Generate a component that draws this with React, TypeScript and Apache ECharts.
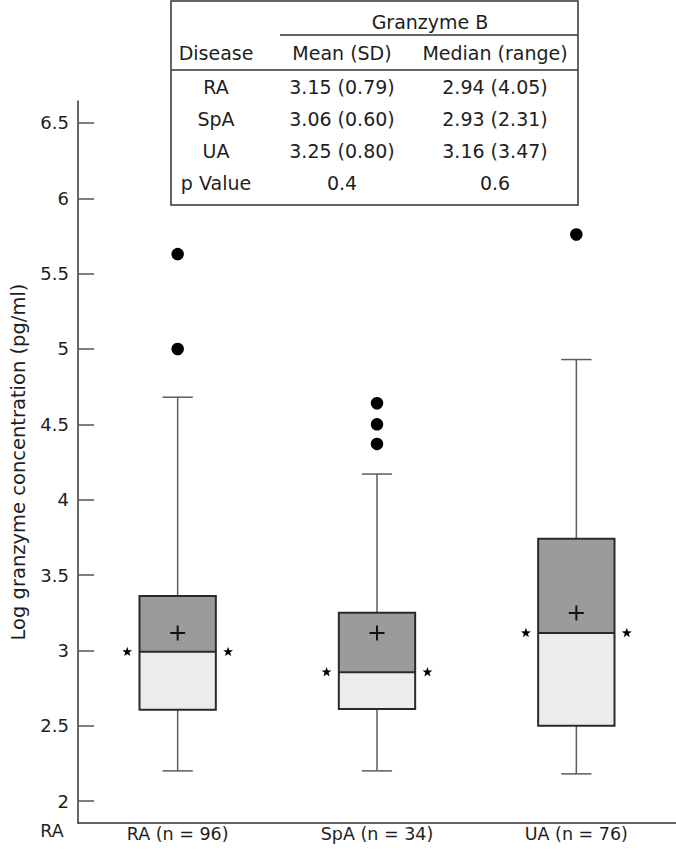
import React, { useEffect, useRef } from 'react';
import * as echarts from 'echarts';

const categories = ['RA (n = 96)', 'SpA (n = 34)', 'UA (n = 76)'];
const whiskerLow = [2.2, 2.2, 2.18];
const q1 = [2.605, 2.61, 2.5];
const medians = [2.99, 2.855, 3.115];
const q3 = [3.36, 3.25, 3.74];
const whiskerHigh = [4.68, 4.17, 4.93];
const means = [3.115, 3.115, 3.248];
const outlierGroup = [0, 0, 1, 1, 1, 2];
const outlierValue = [5.63, 5.0, 4.64, 4.5, 4.37, 5.76];
const yTicks = [2, 2.5, 3, 3.5, 4, 4.5, 5, 5.5, 6, 6.5];

const tableTitle = 'Granzyme B';
const tableHeaders = ['Disease', 'Mean (SD)', 'Median (range)'];
const tableDiseases = ['RA', 'SpA', 'UA', 'p Value'];
const tableMeanSD = ['3.15 (0.79)', '3.06 (0.60)', '3.25 (0.80)', '0.4'];
const tableMedianRange = ['2.94 (4.05)', '2.93 (2.31)', '3.16 (3.47)', '0.6'];

const FONT = '"DejaVu Sans", sans-serif';
const TXT = '#1e1e1e';

function starPoints(cx: number, cy: number, R: number, r: number) {
  const pts: number[][] = [];
  for (let k = 0; k < 10; k++) {
    const ang = -Math.PI / 2 + (k * Math.PI) / 5;
    const rad = k % 2 === 0 ? R : r;
    pts.push([cx + rad * Math.cos(ang), cy + rad * Math.sin(ang)]);
  }
  return pts;
}

export default function App() {
  const ref = useRef<HTMLDivElement>(null);
  useEffect(() => {
    if (!ref.current) return;
    const chart = echarts.init(ref.current, undefined, { renderer: 'svg' });

    const boxData = categories.map((_, i) => [i, whiskerLow[i], q1[i], medians[i], q3[i], whiskerHigh[i], means[i]]);

    const colX = [216, 342, 495];
    const rowY = [87, 119, 151, 183];
    const tableGraphics: any[] = [
      { type: 'rect', shape: { x: 171, y: 1, width: 407, height: 204 }, style: { fill: 'none', stroke: '#333', lineWidth: 1.5 } },
      { type: 'line', shape: { x1: 280, y1: 35, x2: 578, y2: 35 }, style: { stroke: '#333', lineWidth: 1.5 } },
      { type: 'line', shape: { x1: 171, y1: 70, x2: 578, y2: 70 }, style: { stroke: '#333', lineWidth: 1.5 } },
      { type: 'text', x: 430, y: 22, style: { text: tableTitle, font: `19px ${FONT}`, fill: TXT, align: 'center', verticalAlign: 'middle' } },
    ];
    tableHeaders.forEach((h, j) => {
      tableGraphics.push({ type: 'text', x: colX[j], y: 53, style: { text: h, font: `19px ${FONT}`, fill: TXT, align: 'center', verticalAlign: 'middle' } });
    });
    tableDiseases.forEach((d, r) => {
      const vals = [d, tableMeanSD[r], tableMedianRange[r]];
      vals.forEach((v, j) => {
        tableGraphics.push({ type: 'text', x: colX[j], y: rowY[r], style: { text: v, font: `19px ${FONT}`, fill: TXT, align: 'center', verticalAlign: 'middle' } });
      });
    });
    tableGraphics.push({ type: 'text', x: 52, y: 831, style: { text: 'RA', font: `17.5px ${FONT}`, fill: TXT, align: 'center', verticalAlign: 'middle' } });

    chart.setOption({
      animation: false,
      backgroundColor: '#ffffff',
      grid: { left: 73, right: 0, top: 101, bottom: 29, containLabel: false },
      xAxis: {
        type: 'category',
        data: categories,
        boundaryGap: true,
        axisLine: { lineStyle: { color: '#333', width: 1.5 } },
        axisTick: { show: false },
        axisLabel: { fontFamily: FONT, fontSize: 17.5, color: TXT, margin: 2 },
        splitLine: { show: false },
      },
      yAxis: {
        type: 'value',
        min: 1.854,
        max: 6.646,
        name: 'Log granzyme concentration (pg/ml)',
        nameLocation: 'middle',
        nameGap: 50,
        nameTextStyle: { fontFamily: FONT, fontSize: 19.5, color: TXT },
        axisLine: { show: true, lineStyle: { color: '#333', width: 1.5 } },
        axisTick: { show: true, inside: true, length: 16, customValues: yTicks, lineStyle: { color: '#555', width: 1.5 } },
        axisLabel: { fontFamily: FONT, fontSize: 18, color: TXT, margin: 9, customValues: yTicks, formatter: (v: number) => String(v) },
        splitLine: { show: false },
      },
      graphic: tableGraphics,
      series: [
        {
          type: 'custom',
          data: boxData,
          encode: { x: 0, y: [1, 2, 3, 4, 5, 6] },
          renderItem: (params: any, api: any) => {
            const i = api.value(0);
            const band = api.size([1, 0])[0];
            const boxW = band * 0.383;
            const capW = band * 0.152;
            const starOff = band * 0.253;
            const cx = api.coord([i, api.value(1)])[0];
            const yLow = api.coord([i, api.value(1)])[1];
            const yQ1 = api.coord([i, api.value(2)])[1];
            const yMed = api.coord([i, api.value(3)])[1];
            const yQ3 = api.coord([i, api.value(4)])[1];
            const yHigh = api.coord([i, api.value(5)])[1];
            const yMean = api.coord([i, api.value(6)])[1];
            const x0 = cx - boxW / 2;
            const wl = { stroke: '#5c5c5c', lineWidth: 1.5 };
            const children: any[] = [
              { type: 'line', shape: { x1: cx, y1: yQ3, x2: cx, y2: yHigh }, style: wl },
              { type: 'line', shape: { x1: cx - capW / 2, y1: yHigh, x2: cx + capW / 2, y2: yHigh }, style: wl },
              { type: 'line', shape: { x1: cx, y1: yQ1, x2: cx, y2: yLow }, style: wl },
              { type: 'line', shape: { x1: cx - capW / 2, y1: yLow, x2: cx + capW / 2, y2: yLow }, style: wl },
              { type: 'rect', shape: { x: x0, y: yMed, width: boxW, height: yQ1 - yMed }, style: { fill: '#ececec', stroke: 'none' } },
              { type: 'rect', shape: { x: x0, y: yQ3, width: boxW, height: yMed - yQ3 }, style: { fill: '#9b9b9b', stroke: 'none' } },
              { type: 'rect', shape: { x: x0, y: yQ3, width: boxW, height: yQ1 - yQ3 }, style: { fill: 'none', stroke: '#2a2a2a', lineWidth: 2 } },
              { type: 'line', shape: { x1: x0, y1: yMed, x2: x0 + boxW, y2: yMed }, style: { stroke: '#2a2a2a', lineWidth: 2 } },
              { type: 'line', shape: { x1: cx - 7.5, y1: yMean, x2: cx + 7.5, y2: yMean }, style: { stroke: '#111', lineWidth: 2 } },
              { type: 'line', shape: { x1: cx, y1: yMean - 7.5, x2: cx, y2: yMean + 7.5 }, style: { stroke: '#111', lineWidth: 2 } },
              { type: 'polygon', shape: { points: starPoints(cx - starOff, yMed, 5.2, 2.1) }, style: { fill: '#000' } },
              { type: 'polygon', shape: { points: starPoints(cx + starOff, yMed, 5.2, 2.1) }, style: { fill: '#000' } },
            ];
            return { type: 'group', children };
          },
          z: 2,
        },
        {
          type: 'scatter',
          data: outlierValue.map((v, k) => [outlierGroup[k], v]),
          symbol: 'circle',
          symbolSize: 12.5,
          itemStyle: { color: '#000', opacity: 1 },
          z: 3,
        },
      ],
    });
    return () => chart.dispose();
  }, []);
  return <div ref={ref} style={{ position: 'absolute', left: 0, top: 0, width: 676, height: 852 }} />;
}
